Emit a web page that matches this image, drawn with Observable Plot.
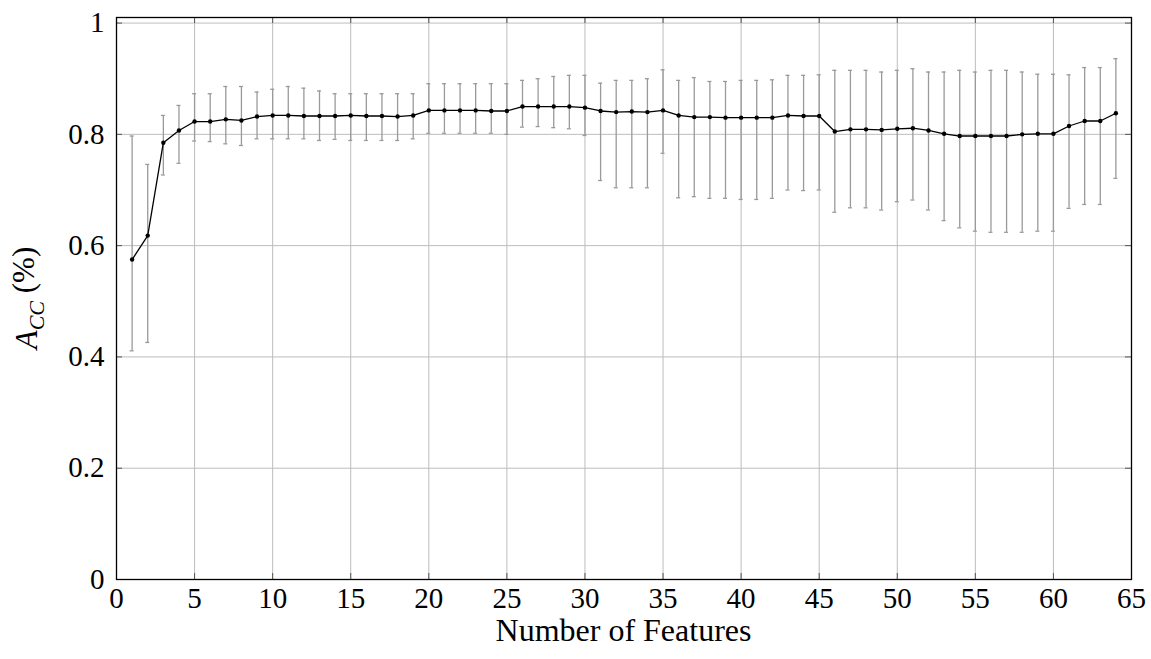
<!DOCTYPE html>
<html>
<head>
<meta charset="utf-8">
<script src="https://cdn.jsdelivr.net/npm/d3@7"></script>
<script src="https://cdn.jsdelivr.net/npm/@observablehq/plot@0.6"></script>
<style>
  html, body { margin: 0; padding: 0; background: #fff; overflow: hidden; }
  #chart svg, #chart svg text { font-family: "Liberation Serif", "DejaVu Serif", serif !important; }
</style>
</head>
<body>
<div id="chart"></div>
<script>
// Number of features (x)
const features = [1,2,3,4,5,6,7,8,9,10,11,12,13,14,15,16,17,18,19,20,21,22,23,24,25,26,27,28,29,30,31,32,33,34,35,36,37,38,39,40,41,42,43,44,45,46,47,48,49,50,51,52,53,54,55,56,57,58,59,60,61,62,63,64];
// Mean accuracy
const meanAcc = [0.575,0.618,0.785,0.807,0.823,0.823,0.827,0.825,0.832,0.834,0.834,0.833,0.833,0.833,0.834,0.833,0.833,0.832,0.834,0.843,0.843,0.843,0.843,0.842,0.842,0.850,0.850,0.850,0.850,0.848,0.842,0.840,0.841,0.840,0.843,0.834,0.831,0.831,0.830,0.830,0.830,0.830,0.834,0.833,0.833,0.805,0.809,0.809,0.808,0.810,0.811,0.807,0.801,0.797,0.797,0.797,0.797,0.800,0.801,0.801,0.815,0.824,0.824,0.838];
// Error bar lower ends
const lowAcc = [0.411,0.426,0.727,0.748,0.788,0.787,0.783,0.780,0.792,0.792,0.792,0.792,0.789,0.791,0.789,0.789,0.789,0.789,0.792,0.802,0.802,0.802,0.802,0.802,0.800,0.813,0.814,0.812,0.810,0.798,0.717,0.704,0.704,0.704,0.766,0.686,0.688,0.685,0.685,0.683,0.683,0.685,0.700,0.699,0.700,0.660,0.668,0.668,0.664,0.679,0.682,0.664,0.645,0.632,0.626,0.624,0.624,0.624,0.626,0.626,0.667,0.674,0.674,0.721];
// Error bar upper ends
const highAcc = [0.797,0.746,0.834,0.852,0.873,0.873,0.886,0.886,0.876,0.881,0.886,0.883,0.878,0.873,0.873,0.873,0.873,0.873,0.873,0.891,0.891,0.891,0.891,0.891,0.891,0.897,0.900,0.904,0.906,0.906,0.892,0.897,0.897,0.900,0.916,0.897,0.902,0.895,0.895,0.897,0.897,0.898,0.906,0.906,0.907,0.915,0.915,0.915,0.912,0.915,0.918,0.912,0.912,0.915,0.912,0.915,0.915,0.912,0.908,0.908,0.907,0.920,0.920,0.936];
// Tick values
const xTicks = [0,5,10,15,20,25,30,35,40,45,50,55,60,65];
const yTicks = [0,0.2,0.4,0.6,0.8,1];
const xDomain = [0, 65];
const yDomain = [0, 1.01];

const data = features.map((x, i) => ({x, mean: meanAcc[i], lo: lowAcc[i], hi: highAcc[i]}));

const W = 1151, H = 659;
const mL = 116, mR = 20, mT = 17, mB = 80;
const FONT = "Liberation Serif, DejaVu Serif, serif";

const plot = Plot.plot({
  width: W,
  height: H,
  marginLeft: mL,
  marginRight: mR,
  marginTop: mT,
  marginBottom: mB,
  style: {fontFamily: FONT, fontSize: "29px", background: "#fff", color: "#000"},
  x: {domain: xDomain, ticks: xTicks},
  y: {domain: yDomain, ticks: yTicks},
  marks: [
    Plot.gridX(xTicks, {stroke: "#bdbdbd", strokeOpacity: 1, strokeWidth: 1}),
    Plot.gridY(yTicks, {stroke: "#bdbdbd", strokeOpacity: 1, strokeWidth: 1}),
    // inward tick marks (bottom, top, left, right)
    Plot.ruleX(xTicks, {x: d => d, y1: () => yDomain[0], y2: () => yDomain[0], insetTop: -6, stroke: "#555", strokeWidth: 1}),
    Plot.ruleX(xTicks, {x: d => d, y1: () => yDomain[1], y2: () => yDomain[1], insetBottom: -6, stroke: "#555", strokeWidth: 1}),
    Plot.ruleY(yTicks, {y: d => d, x1: () => xDomain[0], x2: () => xDomain[0], insetRight: -6, stroke: "#555", strokeWidth: 1}),
    Plot.ruleY(yTicks, {y: d => d, x1: () => xDomain[1], x2: () => xDomain[1], insetLeft: -6, stroke: "#555", strokeWidth: 1}),
    Plot.axisX(xTicks, {tickSize: 0, tickPadding: 8, label: null, fontSize: 29, fontFamily: FONT}),
    Plot.axisY(yTicks, {tickSize: 0, tickPadding: 12, label: null, fontSize: 29, fontFamily: FONT, tickFormat: d => String(d)}),
    // error bars
    Plot.ruleX(data, {x: "x", y1: "lo", y2: "hi", stroke: "#9a9a9a", strokeWidth: 1.3}),
    Plot.ruleY(data, {y: "hi", x1: "x", x2: "x", insetLeft: -2, insetRight: -2, stroke: "#9a9a9a", strokeWidth: 1.3}),
    Plot.ruleY(data, {y: "lo", x1: "x", x2: "x", insetLeft: -2, insetRight: -2, stroke: "#9a9a9a", strokeWidth: 1.3}),
    // mean line + markers
    Plot.line(data, {x: "x", y: "mean", stroke: "#000", strokeWidth: 1.3}),
    Plot.dot(data, {x: "x", y: "mean", r: 2.2, fill: "#000", stroke: "none"}),
    Plot.frame({stroke: "#000", strokeWidth: 1.3})
  ]
});

// axis titles
const svg = d3.select(plot);
svg.attr("font-family", FONT);
const cx = mL + (W - mL - mR) / 2;
svg.append("text")
  .attr("x", cx)
  .attr("y", 641)
  .attr("text-anchor", "middle")
  .attr("font-family", FONT)
  .attr("font-size", 32)
  .attr("fill", "#000")
  .text("Number of Features");

const cy = mT + (H - mT - mB) / 2;
const yl = svg.append("text")
  .attr("transform", `translate(37,${cy}) rotate(-90)`)
  .attr("text-anchor", "middle")
  .attr("font-family", FONT)
  .attr("font-size", 31)
  .attr("fill", "#000");
yl.append("tspan").attr("font-style", "italic").text("A");
yl.append("tspan").attr("font-style", "italic").attr("font-size", 22).attr("dy", "0.3em").text("CC");
yl.append("tspan").attr("dy", "-0.3em").text(" (%)");

document.getElementById("chart").append(plot);
</script>
</body>
</html>
